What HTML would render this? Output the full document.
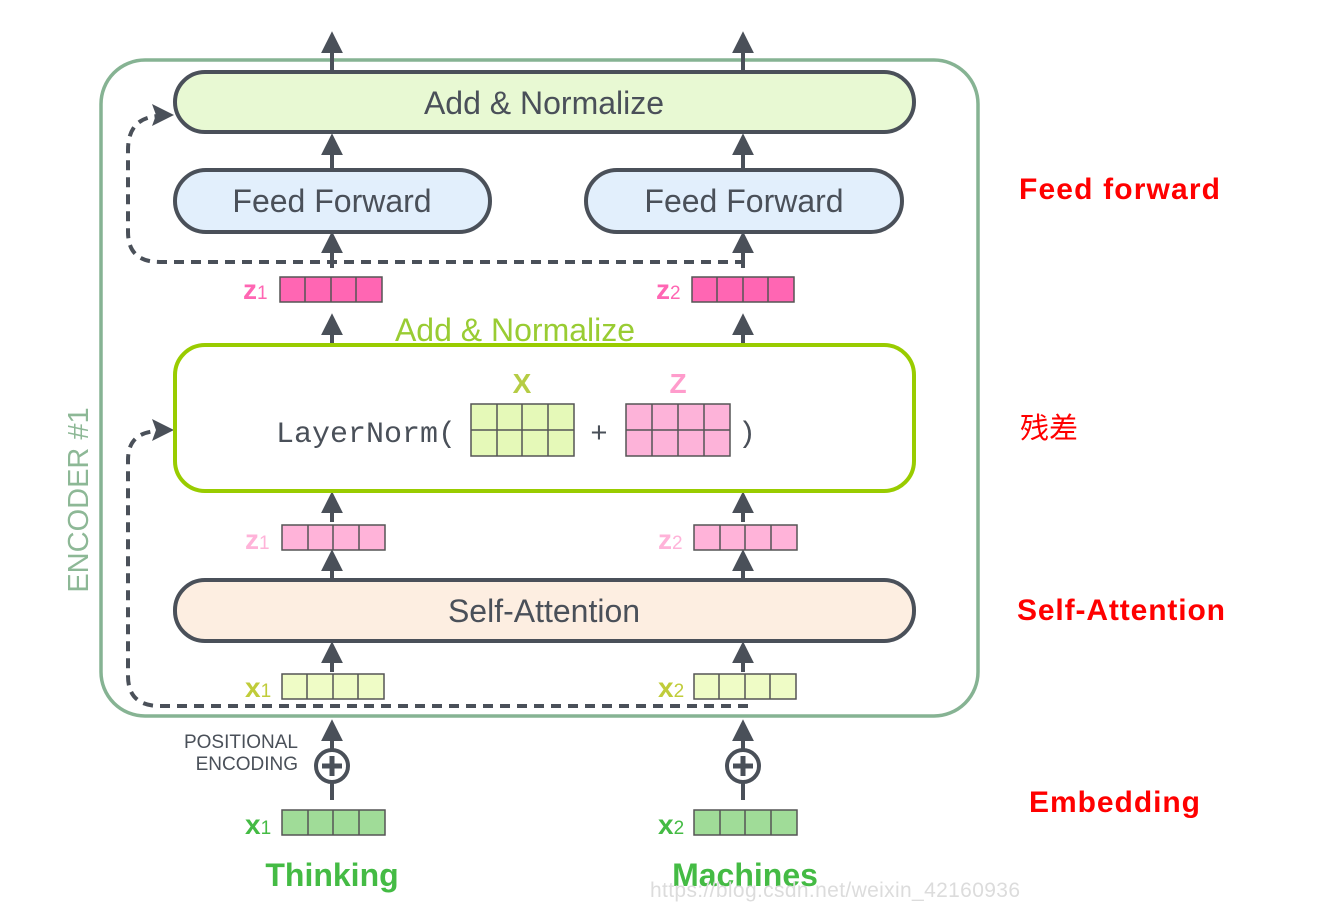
<!DOCTYPE html>
<html><head><meta charset="utf-8"><style>
html,body{margin:0;padding:0;background:#fff;width:1318px;height:910px;overflow:hidden}
svg{display:block}
text{font-family:"Liberation Sans","DejaVu Sans",sans-serif}
text.mono{font-family:"Liberation Mono","DejaVu Sans Mono",monospace}
text.cjk{font-family:"Noto Sans CJK SC","WenQuanYi Zen Hei",sans-serif}
</style></head><body>
<svg width="1318" height="910" viewBox="0 0 1318 910" xmlns="http://www.w3.org/2000/svg">
<defs>
<marker id="ah" viewBox="0 0 10 10" refX="6" refY="5" markerWidth="5.5" markerHeight="5.5" orient="auto"><path d="M0,0 L10,5 L0,10 z" fill="#4a5059"/></marker>
</defs>
<rect x="101" y="60" width="877" height="656" rx="44" fill="none" stroke="#86b393" stroke-width="3.5"/>
<text transform="translate(88,500) rotate(-90)" text-anchor="middle" font-size="29" fill="#8db896">ENCODER #1</text>

<g stroke="#4a5059" stroke-width="4" fill="none">
<line x1="332" y1="72" x2="332" y2="40" marker-end="url(#ah)"/>
<line x1="743" y1="72" x2="743" y2="40" marker-end="url(#ah)"/>
<line x1="332" y1="170" x2="332" y2="142" marker-end="url(#ah)"/>
<line x1="743" y1="170" x2="743" y2="142" marker-end="url(#ah)"/>
<line x1="332" y1="268" x2="332" y2="240" marker-end="url(#ah)"/>
<line x1="743" y1="268" x2="743" y2="240" marker-end="url(#ah)"/>
<line x1="332" y1="345" x2="332" y2="322" marker-end="url(#ah)"/>
<line x1="743" y1="345" x2="743" y2="322" marker-end="url(#ah)"/>
<line x1="332" y1="522" x2="332" y2="500" marker-end="url(#ah)"/>
<line x1="743" y1="522" x2="743" y2="500" marker-end="url(#ah)"/>
<line x1="332" y1="580" x2="332" y2="558" marker-end="url(#ah)"/>
<line x1="743" y1="580" x2="743" y2="558" marker-end="url(#ah)"/>
<line x1="332" y1="672" x2="332" y2="650" marker-end="url(#ah)"/>
<line x1="743" y1="672" x2="743" y2="650" marker-end="url(#ah)"/>
<line x1="332" y1="800" x2="332" y2="728" marker-end="url(#ah)"/>
<line x1="743" y1="800" x2="743" y2="728" marker-end="url(#ah)"/>
</g>
<circle cx="332" cy="766" r="16" fill="#fff" stroke="#4a5059" stroke-width="4"/>
<path d="M322,766 H342 M332,756 V776" stroke="#4a5059" stroke-width="5"/>
<text x="298" y="748" text-anchor="end" font-size="19" fill="#4a5059">POSITIONAL</text>
<text x="298" y="770" text-anchor="end" font-size="19" fill="#4a5059">ENCODING</text>
<circle cx="743" cy="766" r="16" fill="#fff" stroke="#4a5059" stroke-width="4"/>
<path d="M733,766 H753 M743,756 V776" stroke="#4a5059" stroke-width="5"/>

<g stroke="#4a5059" stroke-width="4" fill="none" stroke-dasharray="10,7">
<path d="M745,262 H160 Q128,262 128,232 V150 Q128,118 158,116"/>
<path d="M748,706 H160 Q128,706 128,676 V460 Q128,432 158,431"/>
</g>
<path d="M174,115 L152,104 L156,115 L152,126 z" fill="#4a5059"/>
<path d="M174,430 L152,419 L156,430 L152,441 z" fill="#4a5059"/>

<rect x="175" y="72" width="739" height="60" rx="30" fill="#e8f9d3" stroke="#4a5059" stroke-width="4"/>
<text x="544" y="114" text-anchor="middle" font-size="32" fill="#4a5059">Add &amp; Normalize</text>
<rect x="175" y="170" width="315" height="62" rx="31" fill="#e2effc" stroke="#4a5059" stroke-width="4"/>
<text x="332" y="212" text-anchor="middle" font-size="32" fill="#4a5059">Feed Forward</text>
<rect x="586" y="170" width="316" height="62" rx="31" fill="#e2effc" stroke="#4a5059" stroke-width="4"/>
<text x="744" y="212" text-anchor="middle" font-size="32" fill="#4a5059">Feed Forward</text>
<rect x="175" y="580" width="739" height="61" rx="30" fill="#fdeee1" stroke="#4a5059" stroke-width="4"/>
<text x="544" y="622" text-anchor="middle" font-size="32" fill="#4a5059">Self-Attention</text>

<text x="515" y="341" text-anchor="middle" font-size="32" fill="#99cc33">Add &amp; Normalize</text>
<rect x="175" y="345" width="739" height="146" rx="30" fill="#fff" stroke="#99cc00" stroke-width="4"/>
<text class="mono" x="276" y="442" font-size="30" fill="#4a5059">LayerNorm(</text>
<text x="599" y="442" text-anchor="middle" font-size="29" fill="#4a5059">+</text>
<text class="mono" x="738" y="442" font-size="30" fill="#4a5059">)</text>
<text x="522" y="393" text-anchor="middle" font-size="28" font-weight="bold" fill="#b5cc44">X</text>
<text x="678" y="393" text-anchor="middle" font-size="28" font-weight="bold" fill="#ff9ccc">Z</text>
<g stroke="#555" stroke-width="1.5">
<rect x="471" y="404" width="103" height="52" fill="#e5f9b8"/>
<path d="M497,404V456M522,404V456M548,404V456M471,430H574" fill="none"/>
<rect x="626" y="404" width="104" height="52" fill="#fdb3d9"/>
<path d="M652,404V456M678,404V456M704,404V456M626,430H730" fill="none"/>
<rect x="280" y="277" width="102" height="25" fill="#ff66b3"/><path d="M305,277V302M331,277V302M356,277V302" fill="none"/>
<rect x="692" y="277" width="102" height="25" fill="#ff66b3"/><path d="M717,277V302M743,277V302M768,277V302" fill="none"/>
<rect x="282" y="525" width="103" height="25" fill="#ffb3d9"/><path d="M308,525V550M333,525V550M359,525V550" fill="none"/>
<rect x="694" y="525" width="103" height="25" fill="#ffb3d9"/><path d="M720,525V550M745,525V550M771,525V550" fill="none"/>
<rect x="282" y="674" width="102" height="25" fill="#effcc6"/><path d="M307,674V699M333,674V699M358,674V699" fill="none"/>
<rect x="694" y="674" width="102" height="25" fill="#effcc6"/><path d="M719,674V699M745,674V699M770,674V699" fill="none"/>
<rect x="282" y="810" width="103" height="25" fill="#a0dc98"/><path d="M308,810V835M333,810V835M359,810V835" fill="none"/>
<rect x="694" y="810" width="103" height="25" fill="#a0dc98"/><path d="M720,810V835M745,810V835M771,810V835" fill="none"/>
</g>
<g font-weight="bold" font-size="28">
<text x="243" y="299" fill="#ff66b3">z<tspan font-size="19" font-weight="normal">1</tspan></text>
<text x="656" y="299" fill="#ff66b3">z<tspan font-size="19" font-weight="normal">2</tspan></text>
<text x="245" y="549" fill="#ffb3d9">z<tspan font-size="19" font-weight="normal">1</tspan></text>
<text x="658" y="549" fill="#ffb3d9">z<tspan font-size="19" font-weight="normal">2</tspan></text>
<text x="245" y="697" fill="#c0cc3a">x<tspan font-size="19" font-weight="normal">1</tspan></text>
<text x="658" y="697" fill="#c0cc3a">x<tspan font-size="19" font-weight="normal">2</tspan></text>
<text x="245" y="834" fill="#44bb44">x<tspan font-size="19" font-weight="normal">1</tspan></text>
<text x="658" y="834" fill="#44bb44">x<tspan font-size="19" font-weight="normal">2</tspan></text>
</g>
<text x="332" y="886" text-anchor="middle" font-size="32" font-weight="bold" fill="#44bb44">Thinking</text>
<text x="745" y="886" text-anchor="middle" font-size="32" font-weight="bold" fill="#44bb44">Machines</text>
<text x="650" y="897" font-size="21" fill="#dcdcdc" textLength="370">https://blog.csdn.net/weixin_42160936</text>

<g fill="#ff0000" font-weight="bold" font-size="30">
<text x="1019" y="199" textLength="201">Feed forward</text>
<text x="1017" y="620" textLength="208">Self-Attention</text>
<text x="1029" y="812" textLength="171">Embedding</text>
</g>
<text class="cjk" x="1020" y="438" font-size="29" fill="#ff0000">残差</text>
</svg>
</body></html>
